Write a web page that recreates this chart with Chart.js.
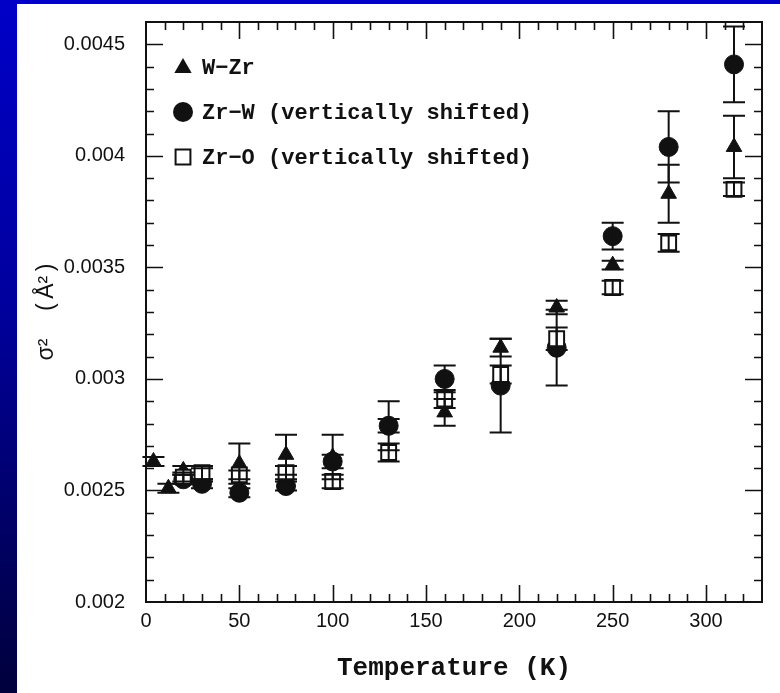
<!DOCTYPE html>
<html>
<head>
<meta charset="utf-8">
<script src="https://cdn.jsdelivr.net/npm/chart.js@4/dist/chart.umd.min.js"></script>
<style>
  html, body { margin: 0; padding: 0; }
  body {
    width: 780px; height: 693px; position: relative; overflow: hidden;
    background: linear-gradient(to bottom, #0000c8 0%, #00009c 45%, #00003c 100%);
  }
  #panel { position: absolute; left: 17px; top: 4px; right: 0; bottom: 0; background: #fff; }
  #wrap { position: absolute; left: 0; top: 0; width: 780px; height: 693px; }
</style>
</head>
<body>
<div id="panel"></div>
<div id="wrap"><canvas id="chart"></canvas></div>
<script>
// sigma^2 vs temperature, three bond pairs with error bars
const wzrT   = [4, 12, 20, 30, 50, 75, 100, 130, 160, 190, 220, 250, 280, 315]
const wzrVal = [0.00263, 0.00251, 0.00259, 0.00257, 0.00262, 0.00266, 0.00265, 0.00279, 0.00285, 0.00314, 0.00332, 0.00351, 0.00383, 0.00404]
const wzrErr = [0.00002, 0.00002, 0.00002, 0.00003, 0.00009, 0.00009, 0.00010, 0.00003, 0.00006, 0.00004, 0.00003, 0.00002, 0.00013, 0.00014]

const zrwT   = [20, 30, 50, 75, 100, 130, 160, 190, 220, 250, 280, 315]
const zrwVal = [0.00255, 0.00253, 0.00249, 0.00252, 0.00263, 0.00279, 0.00300, 0.00297, 0.00314, 0.00364, 0.00404, 0.00441]
const zrwErr = [0.00002, 0.00002, 0.00002, 0.00002, 0.00003, 0.00011, 0.00006, 0.00021, 0.00017, 0.00006, 0.00016, 0.00017]

const zroT   = [20, 30, 50, 75, 100, 130, 160, 190, 220, 250, 280, 315]
const zroVal = [0.00256, 0.00258, 0.00257, 0.00258, 0.00254, 0.00267, 0.00291, 0.00302, 0.00318, 0.00341, 0.00361, 0.00385]
const zroErr = [0.00002, 0.00003, 0.00002, 0.00003, 0.00003, 0.00004, 0.00004, 0.00004, 0.00005, 0.00003, 0.00004, 0.00003]

const xTicks = [0, 50, 100, 150, 200, 250, 300]
const xTickLabels = ['0', '50', '100', '150', '200', '250', '300']
const yTicks = [0.002, 0.0025, 0.003, 0.0035, 0.004, 0.0045]
const yTickLabels = ['0.002', '0.0025', '0.003', '0.0035', '0.004', '0.0045']

const seriesNames = ['W\u2212Zr', 'Zr\u2212W (vertically shifted)', 'Zr\u2212O (vertically shifted)']

const ink = '#111'
const sansFont = "'Liberation Sans', Arial, sans-serif"
const monoFont = "'Liberation Mono', 'Courier New', monospace"

function points (ts, vals, errs) {
  return ts.map((t, i) => ({ x: t, y: vals[i], err: errs[i] }))
}

// boxed frame with inward ticks on all four sides
const frameTicks = {
  id: 'frameTicks',
  beforeDatasetsDraw (chart) {
    const { ctx, chartArea: a, scales: { x, y } } = chart
    ctx.save()
    ctx.strokeStyle = ink
    ctx.lineWidth = 2
    ctx.strokeRect(a.left, a.top, a.right - a.left, a.bottom - a.top)
    ctx.lineWidth = 1.6
    ctx.beginPath()
    for (let t = 10; t < 330; t += 10) {
      const len = t % 50 === 0 ? 17 : 8
      const px = Math.round(x.getPixelForValue(t)) + 0.5
      ctx.moveTo(px, a.bottom); ctx.lineTo(px, a.bottom - len)
      ctx.moveTo(px, a.top); ctx.lineTo(px, a.top + len)
    }
    for (let i = 21; i <= 45; i++) {
      const len = i % 5 === 0 ? 17 : 8
      const py = Math.round(y.getPixelForValue(i / 10000)) + 0.5
      ctx.moveTo(a.left, py); ctx.lineTo(a.left + len, py)
      ctx.moveTo(a.right, py); ctx.lineTo(a.right - len, py)
    }
    ctx.stroke()
    ctx.restore()
  }
}

const errorBars = {
  id: 'errorBars',
  afterDatasetsDraw (chart) {
    const { ctx, scales: { x, y } } = chart
    const cap = 11
    ctx.save()
    ctx.strokeStyle = ink
    ctx.lineWidth = 2
    chart.data.datasets.forEach(ds => {
      ds.data.forEach(p => {
        const px = x.getPixelForValue(p.x)
        const hi = y.getPixelForValue(p.y + p.err)
        const lo = y.getPixelForValue(p.y - p.err)
        ctx.beginPath()
        ctx.moveTo(px, hi); ctx.lineTo(px, lo)
        ctx.moveTo(px - cap, hi); ctx.lineTo(px + cap, hi)
        ctx.moveTo(px - cap, lo); ctx.lineTo(px + cap, lo)
        ctx.stroke()
      })
    })
    ctx.restore()
  }
}

function marker (ctx, style, cx, cy, r) {
  ctx.beginPath()
  if (style === 'triangle') {
    for (let k = 0; k < 3; k++) {
      const ang = -Math.PI / 2 + k * 2 * Math.PI / 3
      const px = cx + Math.cos(ang) * r, py = cy + Math.sin(ang) * r
      k ? ctx.lineTo(px, py) : ctx.moveTo(px, py)
    }
    ctx.closePath()
    ctx.fillStyle = ink; ctx.fill()
  } else if (style === 'circle') {
    ctx.arc(cx, cy, r, 0, Math.PI * 2)
    ctx.fillStyle = ink; ctx.fill()
  } else {
    const h = r * Math.SQRT1_2
    ctx.rect(cx - h, cy - h, 2 * h, 2 * h)
    ctx.fillStyle = '#fff'; ctx.fill()
    ctx.lineWidth = 2; ctx.strokeStyle = ink; ctx.stroke()
  }
}

// legend inside the top-left corner of the plot
const insideLegend = {
  id: 'insideLegend',
  afterDraw (chart) {
    const { ctx, chartArea: a } = chart
    const styles = ['triangle', 'circle', 'rect']
    const sizes = [10, 10, 10.5]
    ctx.save()
    ctx.font = 'bold 22px ' + monoFont
    ctx.textBaseline = 'middle'
    seriesNames.forEach((name, i) => {
      const cy = a.top + 45 + i * 45
      const cx = a.left + 37
      marker(ctx, styles[i], cx, cy + (i === 0 ? 1 : 0), sizes[i])
      ctx.fillStyle = ink
      ctx.fillText(name, a.left + 56, cy + 1)
    })
    ctx.restore()
  }
}

new Chart(document.getElementById('chart'), {
  type: 'scatter',
  data: {
    datasets: [
      {
        label: seriesNames[0], data: points(wzrT, wzrVal, wzrErr),
        pointStyle: 'triangle', pointRadius: 9, pointBackgroundColor: ink,
        pointBorderColor: ink, pointBorderWidth: 1, order: 1
      },
      {
        label: seriesNames[1], data: points(zrwT, zrwVal, zrwErr),
        pointStyle: 'circle', pointRadius: 9.5, pointBackgroundColor: ink,
        pointBorderColor: ink, pointBorderWidth: 1, order: 2
      },
      {
        label: seriesNames[2], data: points(zroT, zroVal, zroErr),
        pointStyle: 'rect', pointRadius: 10.5, pointBackgroundColor: '#fff',
        pointBorderColor: ink, pointBorderWidth: 2, order: 0
      }
    ]
  },
  options: {
    responsive: true,
    maintainAspectRatio: false,
    animation: false,
    devicePixelRatio: 1,
    layout: { padding: { left: 30, top: 22, right: 18, bottom: 5 } },
    plugins: { legend: { display: false }, tooltip: { enabled: false } },
    scales: {
      x: {
        type: 'linear', min: 0, max: 330,
        grid: { display: false, drawTicks: false },
        border: { display: false },
        afterBuildTicks: s => { s.ticks = xTicks.map(v => ({ value: v })) },
        afterFit: s => { s.height = 86; s.paddingLeft = 0; s.paddingRight = 0 },
        ticks: {
          padding: 7, color: ink, font: { family: sansFont, size: 20 },
          callback: (v, i) => xTickLabels[i]
        },
        title: {
          display: true, text: 'Temperature (K)', color: ink,
          font: { family: monoFont, size: 26, weight: 'bold' }, padding: { top: 4, bottom: 4 }
        }
      },
      y: {
        type: 'linear', min: 0.002, max: 0.0046,
        grid: { display: false, drawTicks: false },
        border: { display: false },
        afterBuildTicks: s => { s.ticks = yTicks.map(v => ({ value: v })) },
        afterFit: s => { s.width = 116; s.paddingTop = 0; s.paddingBottom = 0 },
        ticks: {
          padding: 21, color: ink, font: { family: sansFont, size: 20 },
          callback: (v, i) => yTickLabels[i]
        },
        title: {
          display: true, text: 'σ\u00b2\u2003\u2009(\u2009Å\u00b2\u2009)', color: ink,
          font: { family: sansFont, size: 23 }, padding: { top: 3, bottom: 4 }
        }
      }
    }
  },
  plugins: [frameTicks, errorBars, insideLegend]
})
</script>
</body>
</html>
